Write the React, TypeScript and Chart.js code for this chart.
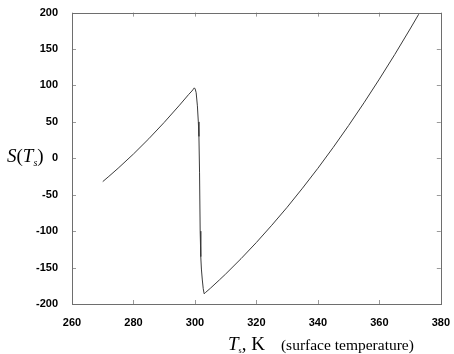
import React, { useEffect, useRef } from "react";
import { Chart, registerables } from "chart.js";

Chart.register(...registerables);

const temperatures = [
  270, 272, 275, 280, 285, 290, 295, 298, 299, 299.5, 299.8, 300.1, 300.4, 300.8,
  301.1, 301.3, 301.5, 301.7, 301.9, 302.1, 302.4, 302.7, 303, 303.5, 305, 308, 310,
  315, 320, 325, 330, 335, 340, 345, 350, 355, 360, 365, 370, 372.8,
];
const sValues = [
  -32, -24.8, -13.7, 5.9, 26.9, 49.3, 73, 87.8, 92.3, 95, 96.7, 95, 90, 72,
  50, 30, -20, -100, -135, -152, -167, -179, -186, -184, -178.5, -166.8, -158.8,
  -137.8, -115.5, -91.9, -67.2, -41, -13.7, 15, 45, 76.2, 108.7, 142.4, 177.5, 197.7,
];
const xTicks = [260, 280, 300, 320, 340, 360, 380];
const yTicks = [-200, -150, -100, -50, 0, 50, 100, 150, 200];

const boxPlugin = {
  id: "matlabBox",
  afterDraw(chart: any) {
    const { ctx, chartArea: a, scales } = chart;
    const xs = scales.x;
    const ys = scales.y;
    ctx.save();
    ctx.strokeStyle = "#9a9a9a";
    ctx.lineWidth = 1;
    const L = 4;
    ctx.beginPath();
    for (const v of xTicks) {
      const px = Math.round(xs.getPixelForValue(v)) + 0.5;
      ctx.moveTo(px, a.bottom);
      ctx.lineTo(px, a.bottom - L);
      ctx.moveTo(px, a.top);
      ctx.lineTo(px, a.top + L);
    }
    for (const v of yTicks) {
      const py = Math.round(ys.getPixelForValue(v)) + 0.5;
      ctx.moveTo(a.left, py);
      ctx.lineTo(a.left + L, py);
      ctx.moveTo(a.right, py);
      ctx.lineTo(a.right - L, py);
    }
    ctx.stroke();
    ctx.strokeStyle = "#6e6e6e";
    ctx.strokeRect(
      Math.round(a.left) + 0.5,
      Math.round(a.top) + 0.5,
      Math.round(a.right - a.left),
      Math.round(a.bottom - a.top)
    );
    ctx.restore();
  },
};

export default function App() {
  const ref = useRef<HTMLCanvasElement>(null);
  useEffect(() => {
    if (!ref.current) return;
    const chart = new Chart(ref.current, {
      type: "line",
      data: {
        datasets: [
          {
            data: temperatures.map((t, i) => ({ x: t, y: sValues[i] })),
            borderColor: "#3a3a3a",
            borderWidth: 1,
            pointRadius: 0,
            tension: 0,
            fill: false,
          },
        ],
      },
      options: {
        animation: false,
        responsive: false,
        events: [],
        layout: { padding: { left: 0, right: 11, top: 11, bottom: 0 } },
        plugins: { legend: { display: false }, tooltip: { enabled: false } },
        scales: {
          x: {
            type: "linear",
            min: 260,
            max: 380,
            afterBuildTicks: (s: any) => {
              s.ticks = xTicks.map((v) => ({ value: v }));
            },
            afterFit: (s: any) => {
              s.height = 50;
            },
            grid: { display: false },
            border: { display: false },
            ticks: {
              color: "#000",
              padding: 4,
              maxRotation: 0,
              font: { family: "'Liberation Sans', Arial", size: 11, weight: "bold" },
            },
          },
          y: {
            type: "linear",
            min: -200,
            max: 200,
            afterBuildTicks: (s: any) => {
              s.ticks = yTicks.map((v) => ({ value: v }));
            },
            afterFit: (s: any) => {
              s.width = 72;
            },
            grid: { display: false },
            border: { display: false },
            ticks: {
              color: "#000",
              padding: 6,
              font: { family: "'Liberation Sans', Arial", size: 11, weight: "bold" },
            },
          },
        },
      },
      plugins: [boxPlugin],
    });
    return () => chart.destroy();
  }, []);

  const serif = "'Liberation Serif', 'Times New Roman', serif";
  return (
    <div
      style={{
        position: "fixed",
        left: 0,
        top: 0,
        width: 454,
        height: 354,
        background: "#fff",
        overflow: "hidden",
      }}
    >
      <canvas ref={ref} width={454} height={354} style={{ display: "block" }} />
      <div
        style={{
          position: "absolute",
          left: 7,
          top: 145,
          fontFamily: serif,
          fontSize: 19,
          lineHeight: "22px",
          whiteSpace: "nowrap",
          color: "#000",
        }}
      >
        <i>S</i>(<i>T</i>
        <sub style={{ fontSize: 10, verticalAlign: "-4px" }}>
          <i>s</i>
        </sub>
        )
      </div>
      <div
        style={{
          position: "absolute",
          left: 228,
          top: 333,
          fontFamily: serif,
          fontSize: 19,
          lineHeight: "21px",
          whiteSpace: "nowrap",
          color: "#000",
        }}
      >
        <i>T</i>
        <sub style={{ fontSize: 8, verticalAlign: "-3px" }}>s</sub>, K
        <span style={{ fontSize: 15.5, marginLeft: 16 }}>(surface temperature)</span>
      </div>
    </div>
  );
}
